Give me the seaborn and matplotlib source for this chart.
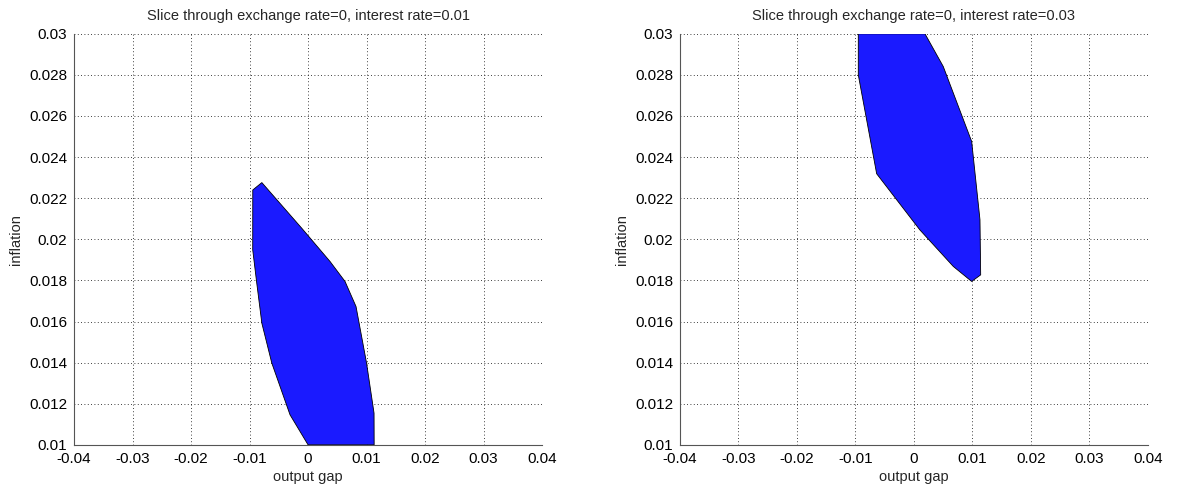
import numpy as np
import pandas as pd
import matplotlib
matplotlib.use("Agg")
import matplotlib.pyplot as plt
import seaborn as sns

# Polygon vertices (output gap, inflation) for each slice
left_gap = [-0.00945, -0.0079, -0.00108, 0.00376, 0.00632, 0.0082, 0.0100, 0.01128, 0.0113,
            0.0, -0.00308, -0.0062, -0.0079, -0.00877, -0.00946]
left_infl = [0.0224, 0.02276, 0.02054, 0.01892, 0.01795, 0.01673, 0.01398, 0.01154, 0.0100,
             0.0100, 0.01146, 0.01398, 0.01592, 0.01787, 0.01949]

right_gap = [-0.00952, 0.00188, 0.0050, 0.00986, 0.01128, 0.0114, 0.00986, 0.00672, 0.0010,
             -0.00638, -0.00952]
right_infl = [0.0300, 0.0300, 0.02841, 0.02476, 0.02095, 0.01827, 0.01795, 0.01868, 0.02046,
              0.02319, 0.0280]

titles = ["Slice through exchange rate=0, interest rate=0.01",
          "Slice through exchange rate=0, interest rate=0.03"]
xticks = [-0.04, -0.03, -0.02, -0.01, 0, 0.01, 0.02, 0.03, 0.04]
xticklabels = ["-0.04", "-0.03", "-0.02", "-0.01", "0", "0.01", "0.02", "0.03", "0.04"]
yticks = [0.01, 0.012, 0.014, 0.016, 0.018, 0.02, 0.022, 0.024, 0.026, 0.028, 0.03]
yticklabels = ["0.01", "0.012", "0.014", "0.016", "0.018", "0.02", "0.022", "0.024",
               "0.026", "0.028", "0.03"]

sns.set_style("white")
plt.rcParams['font.family'] = ['Liberation Sans', 'DejaVu Sans']

fig = plt.figure(figsize=(11.83, 4.97), dpi=100)
axes = [fig.add_axes([0.0626, 0.105, 0.3956, 0.827]),
        fig.add_axes([0.5748, 0.105, 0.3956, 0.827])]

polys = [(left_gap, left_infl), (right_gap, right_infl)]
for ax, (gx, gy), title in zip(axes, polys, titles):
    df = pd.DataFrame({"gap": gx, "infl": gy})
    ax.fill(df["gap"], df["infl"], facecolor="#1a1aff", edgecolor="black", linewidth=0.6, zorder=3)
    ax.set_xlim(-0.04, 0.04)
    ax.set_ylim(0.01, 0.03)
    ax.set_xticks(xticks)
    ax.set_xticklabels(xticklabels)
    ax.set_yticks(yticks)
    ax.set_yticklabels(yticklabels)
    ax.grid(True, linestyle=(0, (1, 3)), color="black", linewidth=0.6)
    ax.set_axisbelow(True)
    for s in ["top", "right"]:
        ax.spines[s].set_visible(False)
    for s in ["left", "bottom"]:
        ax.spines[s].set_color("#555555")
        ax.spines[s].set_linewidth(0.8)
    ax.tick_params(direction="in", length=3, labelsize=11, colors="black")
    ax.tick_params(axis="x", pad=5)
    ax.tick_params(axis="y", pad=5)
    ax.set_xlabel("output gap", fontsize=10.5, labelpad=3)
    ax.set_ylabel("inflation", fontsize=10.5, labelpad=4)
    ax.set_title(title, fontsize=10.5, pad=10)

fig.savefig("out.png", dpi=100)
